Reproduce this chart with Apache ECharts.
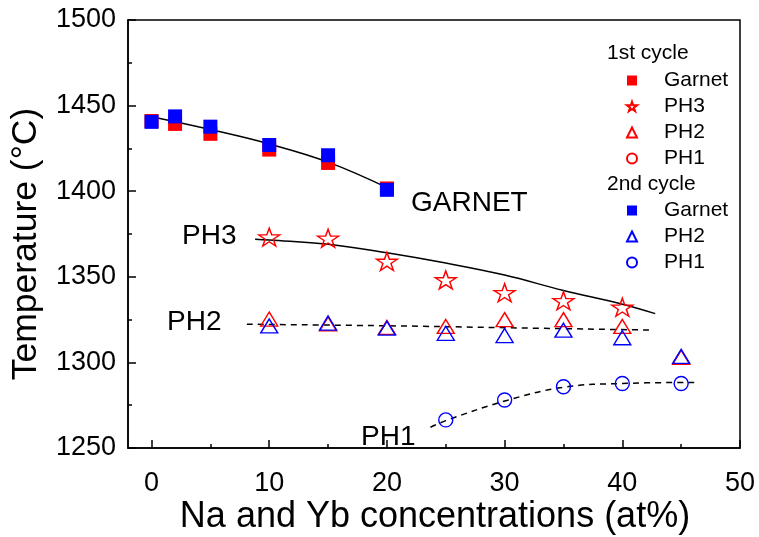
<!DOCTYPE html>
<html>
<head>
<meta charset="utf-8">
<script src="https://cdn.jsdelivr.net/npm/echarts@6/dist/echarts.min.js"></script>
<style>
  html, body { margin: 0; padding: 0; background: #fff; }
  #chart { width: 759px; height: 537px; }
</style>
</head>
<body>
<div id="chart"></div>
<script>
// Melting / phase temperatures vs. Na and Yb concentration
const garnetConc = [0, 2, 5, 10, 15, 20];
const garnetFirst = [1441, 1439.3, 1433.5, 1424.3, 1416.5, 1401.6];
const garnetSecond = [1440.5, 1443.7, 1437.7, 1427, 1421, 1400.8];

const ph3Conc = [10, 15, 20, 25, 30, 35, 40];
const ph3First = [1373.2, 1372.5, 1359, 1348.2, 1340.7, 1336, 1332.2];

const ph2Conc = [10, 15, 20, 25, 30, 35, 40, 45];
const ph2First = [1325.3, 1322.5, 1320.4, 1321, 1325, 1325, 1321, 1303];
const ph2Second = [1321.3, 1323, 1320, 1317, 1315.7, 1318.8, 1314.4, 1303.5];

const ph1Conc = [25, 30, 35, 40, 45];
const ph1First = [];
const ph1Second = [1266.4, 1278, 1285.8, 1287.7, 1287.7];

// Guide curves through each phase
const garnetFitX = [-0.5, 0, 5, 10, 15, 20.2];
const garnetFitY = [1444, 1443.5, 1436, 1427.6, 1417, 1401.5];
const ph3FitX = [8.8, 10, 15, 20, 25, 30, 35, 40, 42.8];
const ph3FitY = [1372, 1371.5, 1369, 1364, 1358, 1351, 1342, 1334, 1328.5];
const ph2FitX = [8.1, 21, 28, 42.4];
const ph2FitY = [1322.3, 1321.3, 1320.5, 1318.9];
const ph1FitX = [23.7, 25, 30.1, 35, 40, 46.2];
const ph1FitY = [1262.1, 1266, 1277.6, 1285.5, 1287.7, 1288.3];

// Axis ticks
const xMajorTicks = [0, 10, 20, 30, 40, 50];
const xMinorTicks = [5, 15, 25, 35, 45];

const FONT = "'Liberation Sans', Arial, sans-serif";
const RED = '#ff0000';
const BLUE = '#0000ff';
const STAR = 'path://M50,0 L61.2,34.5 L97.6,34.5 L68.2,55.9 L79.4,90.5 L50,69.1 L20.6,90.5 L31.8,55.9 L2.4,34.5 L38.8,34.5 Z';

const pairs = (xs, ys) => ys.map((y, i) => [xs[i], y]);

function markerSeries(name, xs, ys, symbol, size, color, filled) {
  return {
    name: name,
    type: 'scatter',
    data: pairs(xs, ys),
    symbol: symbol,
    symbolSize: size,
    symbolKeepAspect: false,
    itemStyle: filled
      ? { color: color, borderWidth: 0, opacity: 1 }
      : { color: 'transparent', borderColor: color, borderWidth: 1.4, opacity: 1 },
    emphasis: { disabled: true },
    z: 3
  };
}

function fitSeries(xs, ys, dashed) {
  return {
    type: 'line',
    data: pairs(xs, ys),
    smooth: 0.4,
    showSymbol: false,
    symbol: 'none',
    lineStyle: { color: '#000', width: 1.5, type: dashed ? [6, 5] : 'solid' },
    emphasis: { disabled: true },
    z: 2
  };
}

function legendBlock(names, prefix, top) {
  return {
    data: names,
    formatter: n => n.replace(prefix, ''),
    orient: 'vertical', left: 626, top: top,
    itemWidth: 10, itemHeight: 10, itemGap: 5, padding: 0,
    selectedMode: false,
    textStyle: { color: '#000', fontSize: 21, fontFamily: FONT, padding: [0, 0, 0, 22] }
  };
}

const chart = echarts.init(document.getElementById('chart'), null, { renderer: 'canvas' });

const axisLine = { show: true, onZero: false, lineStyle: { color: '#000', width: 1.5 } };

chart.setOption({
  animation: false,
  backgroundColor: '#fff',
  grid: {
    left: 128, right: 19, top: 20, bottom: 89,
    show: true, borderColor: '#000', borderWidth: 1.5, backgroundColor: 'transparent'
  },
  xAxis: [
    {
      type: 'value', min: -2, max: 50, position: 'bottom',
      axisLine: axisLine,
      axisTick: { show: true, inside: true, length: 8, lineStyle: { color: '#000', width: 1.5 }, customValues: xMajorTicks },
      axisLabel: { show: true, margin: 22, color: '#000', fontSize: 27, fontFamily: FONT, customValues: xMajorTicks },
      splitLine: { show: false }
    },
    {
      type: 'value', min: -2, max: 50, position: 'bottom',
      axisLine: { show: false },
      axisTick: { show: true, inside: true, length: 4, lineStyle: { color: '#000', width: 1.5 }, customValues: xMinorTicks },
      axisLabel: { show: false },
      splitLine: { show: false }
    }
  ],
  yAxis: {
    type: 'value', min: 1250, max: 1500, interval: 50,
    axisLine: axisLine,
    axisTick: { show: true, inside: true, length: 8, lineStyle: { color: '#000', width: 1.5 } },
    minorTick: { show: true, splitNumber: 2, length: 4, lineStyle: { color: '#000', width: 1.5 } },
    axisLabel: { margin: 12, color: '#000', fontSize: 27, fontFamily: FONT, formatter: v => String(v) },
    splitLine: { show: false },
    minorSplitLine: { show: false }
  },
  legend: [
    legendBlock(['1st cycle Garnet', '1st cycle PH3', '1st cycle PH2', '1st cycle PH1'], '1st cycle ', 70),
    legendBlock(['2nd cycle Garnet', '2nd cycle PH2', '2nd cycle PH1'], '2nd cycle ', 200)
  ],
  graphic: [
    { type: 'text', left: 607, top: 43, style: { text: '1st cycle', fontSize: 21, fontFamily: FONT, fill: '#000' } },
    { type: 'text', left: 607, top: 174, style: { text: '2nd cycle', fontSize: 21, fontFamily: FONT, fill: '#000' } },
    { type: 'text', x: 411, y: 203, style: { text: 'GARNET', fontSize: 28, fontFamily: FONT, fill: '#000', align: 'left', verticalAlign: 'middle' } },
    { type: 'text', x: 182, y: 236, style: { text: 'PH3', fontSize: 28, fontFamily: FONT, fill: '#000', align: 'left', verticalAlign: 'middle' } },
    { type: 'text', x: 167, y: 322, style: { text: 'PH2', fontSize: 28, fontFamily: FONT, fill: '#000', align: 'left', verticalAlign: 'middle' } },
    { type: 'text', x: 361, y: 437, style: { text: 'PH1', fontSize: 28, fontFamily: FONT, fill: '#000', align: 'left', verticalAlign: 'middle' } },
    { type: 'text', x: 435, y: 517, style: { text: 'Na and Yb concentrations (at%)', fontSize: 36, fontFamily: FONT, fill: '#000', align: 'center', verticalAlign: 'middle' } },
    { type: 'text', x: 26, y: 244, rotation: Math.PI / 2, style: { text: 'Temperature (°C)', fontSize: 35.5, fontFamily: FONT, fill: '#000', align: 'center', verticalAlign: 'middle' } }
  ],
  series: [
    fitSeries(garnetFitX, garnetFitY, false),
    fitSeries(ph3FitX, ph3FitY, false),
    fitSeries(ph2FitX, ph2FitY, true),
    fitSeries(ph1FitX, ph1FitY, true),
    markerSeries('1st cycle Garnet', garnetConc, garnetFirst, 'rect', 14, RED, true),
    markerSeries('1st cycle PH3', ph3Conc, ph3First, STAR, [21, 18], RED, false),
    markerSeries('1st cycle PH2', ph2Conc, ph2First, 'triangle', [17, 14], RED, false),
    markerSeries('1st cycle PH1', ph1Conc, ph1First, 'circle', 14, RED, false),
    markerSeries('2nd cycle Garnet', garnetConc, garnetSecond, 'rect', 14, BLUE, true),
    markerSeries('2nd cycle PH2', ph2Conc, ph2Second, 'triangle', [17, 14], BLUE, false),
    markerSeries('2nd cycle PH1', ph1Conc, ph1Second, 'circle', 14, BLUE, false)
  ]
});
</script>
</body>
</html>
